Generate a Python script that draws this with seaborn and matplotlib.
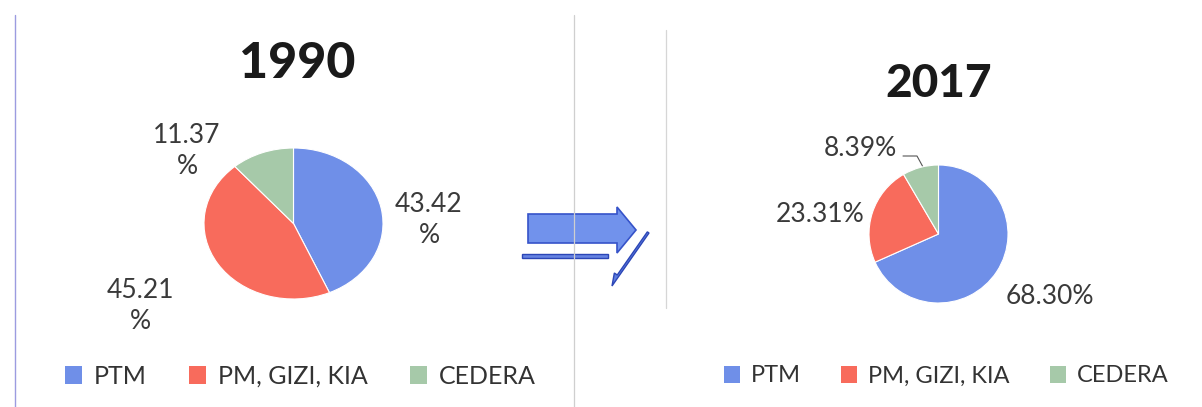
import matplotlib
matplotlib.use("Agg")
import matplotlib.pyplot as plt
from matplotlib.patches import Patch, Polygon, Rectangle, FancyArrow
import seaborn as sns

# Shares of the three programme groups, 1990 vs 2017 (percent)
categories = ["PTM", "PM, GIZI, KIA", "CEDERA"]
share_1990 = [43.42, 45.21, 11.37]
share_2017 = [68.30, 23.31, 8.39]
years = ["1990", "2017"]

sns.set_theme(style="white")
plt.rcParams["font.family"] = ["Lato", "DejaVu Sans"]

colors = ["#6f8fe8", "#f86b5c", "#a6c9a9"]

W, H = 1202, 407
fig = plt.figure(figsize=(W / 100, H / 100), dpi=100)
fig.patch.set_facecolor("white")


def px_axes(x0, y0, x1, y1, **kw):
    """Axes placed by pixel box (top-left origin)."""
    return fig.add_axes([x0 / W, 1 - y1 / H, (x1 - x0) / W, (y1 - y0) / H], **kw)


def px_text(x, y, s, **kw):
    return fig.text(x / W, 1 - y / H, s, ha="center", va="center", **kw)


# background decoration layer in pixel coordinates
bg = px_axes(0, 0, W, H)
bg.set_xlim(0, W)
bg.set_ylim(H, 0)
bg.axis("off")
bg.plot([15, 15], [15, 407], color="#9c9ce0", lw=1.0)
bg.plot([574, 574], [15, 407], color="#cfcfcf", lw=0.9)
bg.plot([666, 666], [30, 308], color="#d6d6d6", lw=0.9)

# transition arrows between the two charts
bg.add_patch(Polygon([(528, 214), (617, 214), (617, 207), (636, 230),
                      (617, 253), (617, 243), (528, 243)],
                     closed=True, facecolor="#7192ec", edgecolor="#3653c9", lw=1.2))
bg.add_patch(Rectangle((522, 254), 86, 4, facecolor="#6683e2", edgecolor="#2c46b6", lw=1.0))
bg.add_patch(FancyArrow(649, 233, -37, 53, width=4, head_width=11, head_length=12,
                        shape="right", length_includes_head=True,
                        facecolor="#5d7de0", edgecolor="#2c46b6", lw=1.0))


def draw_pie(box, values):
    ax = px_axes(*box)
    ax.pie(values, colors=colors, startangle=90, counterclock=False,
           wedgeprops=dict(edgecolor="white", linewidth=0.8))
    ax.set_aspect("auto")
    ax.set_xlim(-1.0, 1.0)
    ax.set_ylim(-1.0, 1.0)
    ax.axis("off")
    return ax


draw_pie((204, 148, 383, 299), share_1990)
draw_pie((869, 165, 1008, 303), share_2017)

label_color = "#3a3a3a"
title_color = "#1a1a1a"

px_text(297, 64, years[0], fontsize=36, fontweight="black", color=title_color)
px_text(939, 84, years[1], fontsize=33, fontweight="black", color=title_color)

# 1990 value labels (wrapped onto two lines)
pos_1990 = [(429, 220), (140, 306), (187, 151)]
for v, (x, y) in zip(share_1990, pos_1990):
    px_text(x, y, f"{v:.2f}\n%", fontsize=19, color=label_color, linespacing=1.3)

# 2017 value labels
pos_2017 = [(1050, 296), (820, 215), (860, 149)]
for v, (x, y) in zip(share_2017, pos_2017):
    px_text(x, y, f"{v:.2f}%", fontsize=19, color=label_color)
bg.plot([903, 917, 923], [156, 156, 167], color="#555555", lw=0.8)

handles = [Patch(facecolor=c, edgecolor="none") for c in colors]
for cx, fs, spacing in [(300, 18, 1.7), (946, 17, 1.7)]:
    fig.legend(handles, categories, loc="center", bbox_to_anchor=(cx / W, 1 - 376 / H),
               ncol=3, frameon=False, fontsize=fs, handlelength=0.7, handleheight=0.7,
               handletextpad=0.45, columnspacing=spacing, labelcolor="#333333")

fig.savefig("out.png", dpi=100, facecolor="white")
